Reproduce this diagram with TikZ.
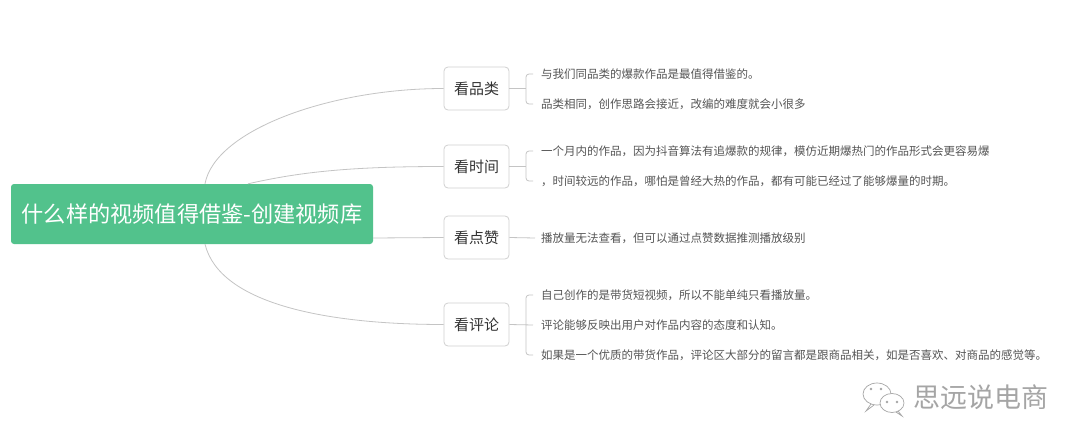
\documentclass[tikz,border=0pt]{standalone}
\usepackage{fontspec}
\setmainfont{Noto Sans CJK SC}
\usetikzlibrary{positioning}
\definecolor{rootgreen}{RGB}{82,194,140}
\definecolor{boxgray}{RGB}{208,208,208}
\definecolor{linegray}{RGB}{196,196,196}
\definecolor{textdark}{RGB}{51,51,51}
\definecolor{textgray}{RGB}{85,85,85}
\definecolor{markgray}{RGB}{165,165,165}

\begin{document}
\begin{tikzpicture}[x=1pt,y=-1pt,node distance=30pt,
	rootbox/.style={fill=rootgreen,rounded corners=3pt,minimum width=362pt,minimum height=60pt,inner sep=0pt,text=white,font=\fontsize{22.2}{26}\selectfont},
	branch/.style={draw=linegray,line width=0.8pt}]
	\tikzstyle{catbox}=[draw=boxgray,line width=0.8pt,rounded corners=4pt,fill=white,minimum width=65pt,minimum height=43pt,inner sep=0pt,text=textdark,font=\fontsize{15}{18}\selectfont]
	\tikzstyle{leaf}=[inner sep=0pt,text=textgray,font=\fontsize{11.5}{14}\selectfont]

	\useasboundingbox[fill=white] (0,0) rectangle (1080,447);

	\node[rootbox] (root) at (192,214) {什么样的视频值得借鉴-创建视频库};

	\node[catbox] (pinlei) at (476.5,88.5) {看品类};
	\node[catbox] (shijian) at (476.5,166.5) {看时间};
	\node[catbox] (dianzan) at (476.5,237.5) {看点赞};
	\node[catbox] (pinglun) at (476.5,324.5) {看评论};

	\node[leaf,anchor=west] (pl1) at (541,74) {与我们同品类的爆款作品是最值得借鉴的。};
	\node[leaf,below=of pl1.west,anchor=west] (pl2) {品类相同，创作思路会接近，改编的难度就会小很多};
	\node[leaf,anchor=west] (sj1) at (541,151) {一个月内的作品，因为抖音算法有追爆款的规律，模仿近期爆热门的作品形式会更容易爆};
	\node[leaf,below=of sj1.west,anchor=west] (sj2) {，时间较远的作品，哪怕是曾经大热的作品，都有可能已经过了能够爆量的时期。};
	\node[leaf,anchor=west] (dz1) at (541,238) {播放量无法查看，但可以通过点赞数据推测播放级别};
	\node[leaf,anchor=west] (pg1) at (541,295) {自己创作的是带货短视频，所以不能单纯只看播放量。};
	\node[leaf,below=of pg1.west,anchor=west] (pg2) {评论能够反映出用户对作品内容的态度和认知。};
	\node[leaf,below=of pg2.west,anchor=west] (pg3) {如果是一个优质的带货作品，评论区大部分的留言都是跟商品相关，如是否喜欢、对商品的感觉等。};

	\draw[branch] ([xshift=13pt]root.north) .. controls (215,130) and (330,88.5) .. (pinlei.west);
	\draw[branch] ([xshift=56pt]root.north) .. controls (300,172) and (350,166.5) .. (shijian.west);
	\draw[branch] ([yshift=-24pt]root.east) -- (dianzan.west);
	\draw[branch] ([xshift=13pt]root.south) .. controls (220,305) and (330,324.5) .. (pinglun.west);

	\draw[branch] (pinlei.east) -- ++(17,0);
	\draw[branch,rounded corners=3pt] ([xshift=-8pt]pl1.west) -- ([xshift=-15pt]pl1.west) -- ([xshift=-15pt]pl2.west) -- ([xshift=-8pt]pl2.west);
	\draw[branch] (shijian.east) -- ++(17,0);
	\draw[branch,rounded corners=3pt] ([xshift=-8pt]sj1.west) -- ([xshift=-15pt]sj1.west) -- ([xshift=-15pt]sj2.west) -- ([xshift=-8pt]sj2.west);
	\draw[branch] (dianzan.east) -- ([xshift=-6pt]dz1.west);
	\draw[branch] (pinglun.east) -- ([xshift=-8pt]pg2.west);
	\draw[branch,rounded corners=3pt] ([xshift=-8pt]pg1.west) -- ([xshift=-15pt]pg1.west) -- ([xshift=-15pt]pg3.west) -- ([xshift=-8pt]pg3.west);

	\draw[markgray,line width=0.7pt] (877,394) ellipse [x radius=14,y radius=11];
	\draw[markgray,line width=0.7pt] (871,404) -- (866,411) -- (874,405);
	\filldraw[fill=white,draw=markgray,line width=0.7pt] (892,403) ellipse [x radius=12,y radius=9.5];
	\draw[markgray,line width=0.7pt] (898,411) -- (902,416) -- (896,412);
	\foreach \px/\py in {871/389, 881/389, 887/402, 897/402}
		\fill[markgray] (\px,\py) circle (1.3);
	\node[anchor=west,inner sep=0pt,text=markgray,font=\fontsize{27}{30}\selectfont] (mark) at (913,397) {思远说电商};
\end{tikzpicture}
\end{document}
